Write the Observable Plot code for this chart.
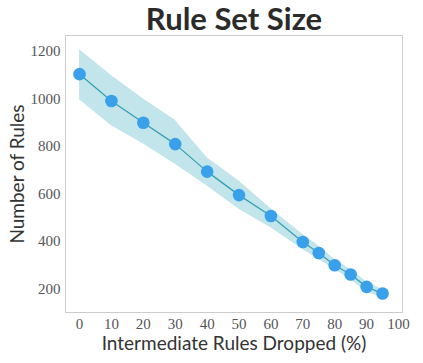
<!DOCTYPE html>
<html>
<head>
<meta charset="utf-8">
<script src="https://cdn.jsdelivr.net/npm/d3@7"></script>
<script src="https://cdn.jsdelivr.net/npm/@observablehq/plot@0.6"></script>
<style>
  html, body { margin: 0; padding: 0; background: #fff; }
  #chart svg { display: block; }
</style>
</head>
<body>
<div id="chart"></div>
<script>
const dropped = [0, 10, 20, 30, 40, 50, 60, 70, 75, 80, 85, 90, 95];
const meanRules = [1105, 992, 900, 810, 694, 595, 507, 397, 351, 299, 260, 208, 180];
const upperRules = [1208, 1099, 1000, 911, 753, 655, 538, 429, 380, 323, 281, 229, 197];
const lowerRules = [997, 887, 810, 725, 633, 535, 457, 366, 323, 281, 239, 186, 161];
const xTicks = [0, 10, 20, 30, 40, 50, 60, 70, 80, 90, 100];
const yTicks = [200, 400, 600, 800, 1000, 1200];
const titleText = "Rule Set Size";
const xLabel = "Intermediate Rules Dropped (%)";
const yLabel = "Number of Rules";

const data = dropped.map((d, i) => ({x: d, y: meanRules[i], lo: lowerRules[i], hi: upperRules[i]}));

const serif = "'Liberation Serif', 'Times New Roman', serif";
const sans = "Lato, sans-serif";

const chart = Plot.plot({
  width: 423,
  height: 363,
  marginLeft: 65,
  marginRight: 21,
  marginTop: 35,
  marginBottom: 51,
  style: {background: "#fff", overflow: "visible"},
  x: {domain: [-4.4, 101.25]},
  y: {domain: [100, 1268]},
  marks: [
    Plot.areaY(data, {x: "x", y1: "lo", y2: "hi", fill: "#c2e5eb", fillOpacity: 1}),
    Plot.line(data, {x: "x", y: "y", stroke: "#3a9fb3", strokeWidth: 1.3}),
    Plot.dot(data, {x: "x", y: "y", r: 6.3, fill: "#3aa0ea", stroke: "none"}),
    Plot.frame({stroke: "#cccccc", strokeWidth: 1}),
    Plot.axisX({ticks: xTicks, tickFormat: d => String(d), tickSize: 0, tickPadding: 6, label: null, fontFamily: serif, fontSize: 15, color: "#555"}),
    Plot.axisY({ticks: yTicks, tickFormat: d => String(d), tickSize: 0, tickPadding: 5, label: null, fontFamily: serif, fontSize: 15, color: "#555"}),
    Plot.text([xLabel], {frameAnchor: "bottom", dy: 31, text: d => d, fontFamily: sans, fontSize: 19, fill: "#333", lineAnchor: "middle", textAnchor: "middle"}),
    Plot.text([yLabel], {frameAnchor: "left", dx: -48, rotate: -90, text: d => d, fontFamily: sans, fontSize: 19, fill: "#333", lineAnchor: "middle", textAnchor: "middle"}),
    Plot.text([titleText], {frameAnchor: "top", dy: -6, text: d => d, fontFamily: sans, fontWeight: "bold", fontSize: 31, fill: "#2b2b2b", lineAnchor: "bottom", textAnchor: "middle"})
  ]
});
document.getElementById("chart").appendChild(chart);
</script>
</body>
</html>
